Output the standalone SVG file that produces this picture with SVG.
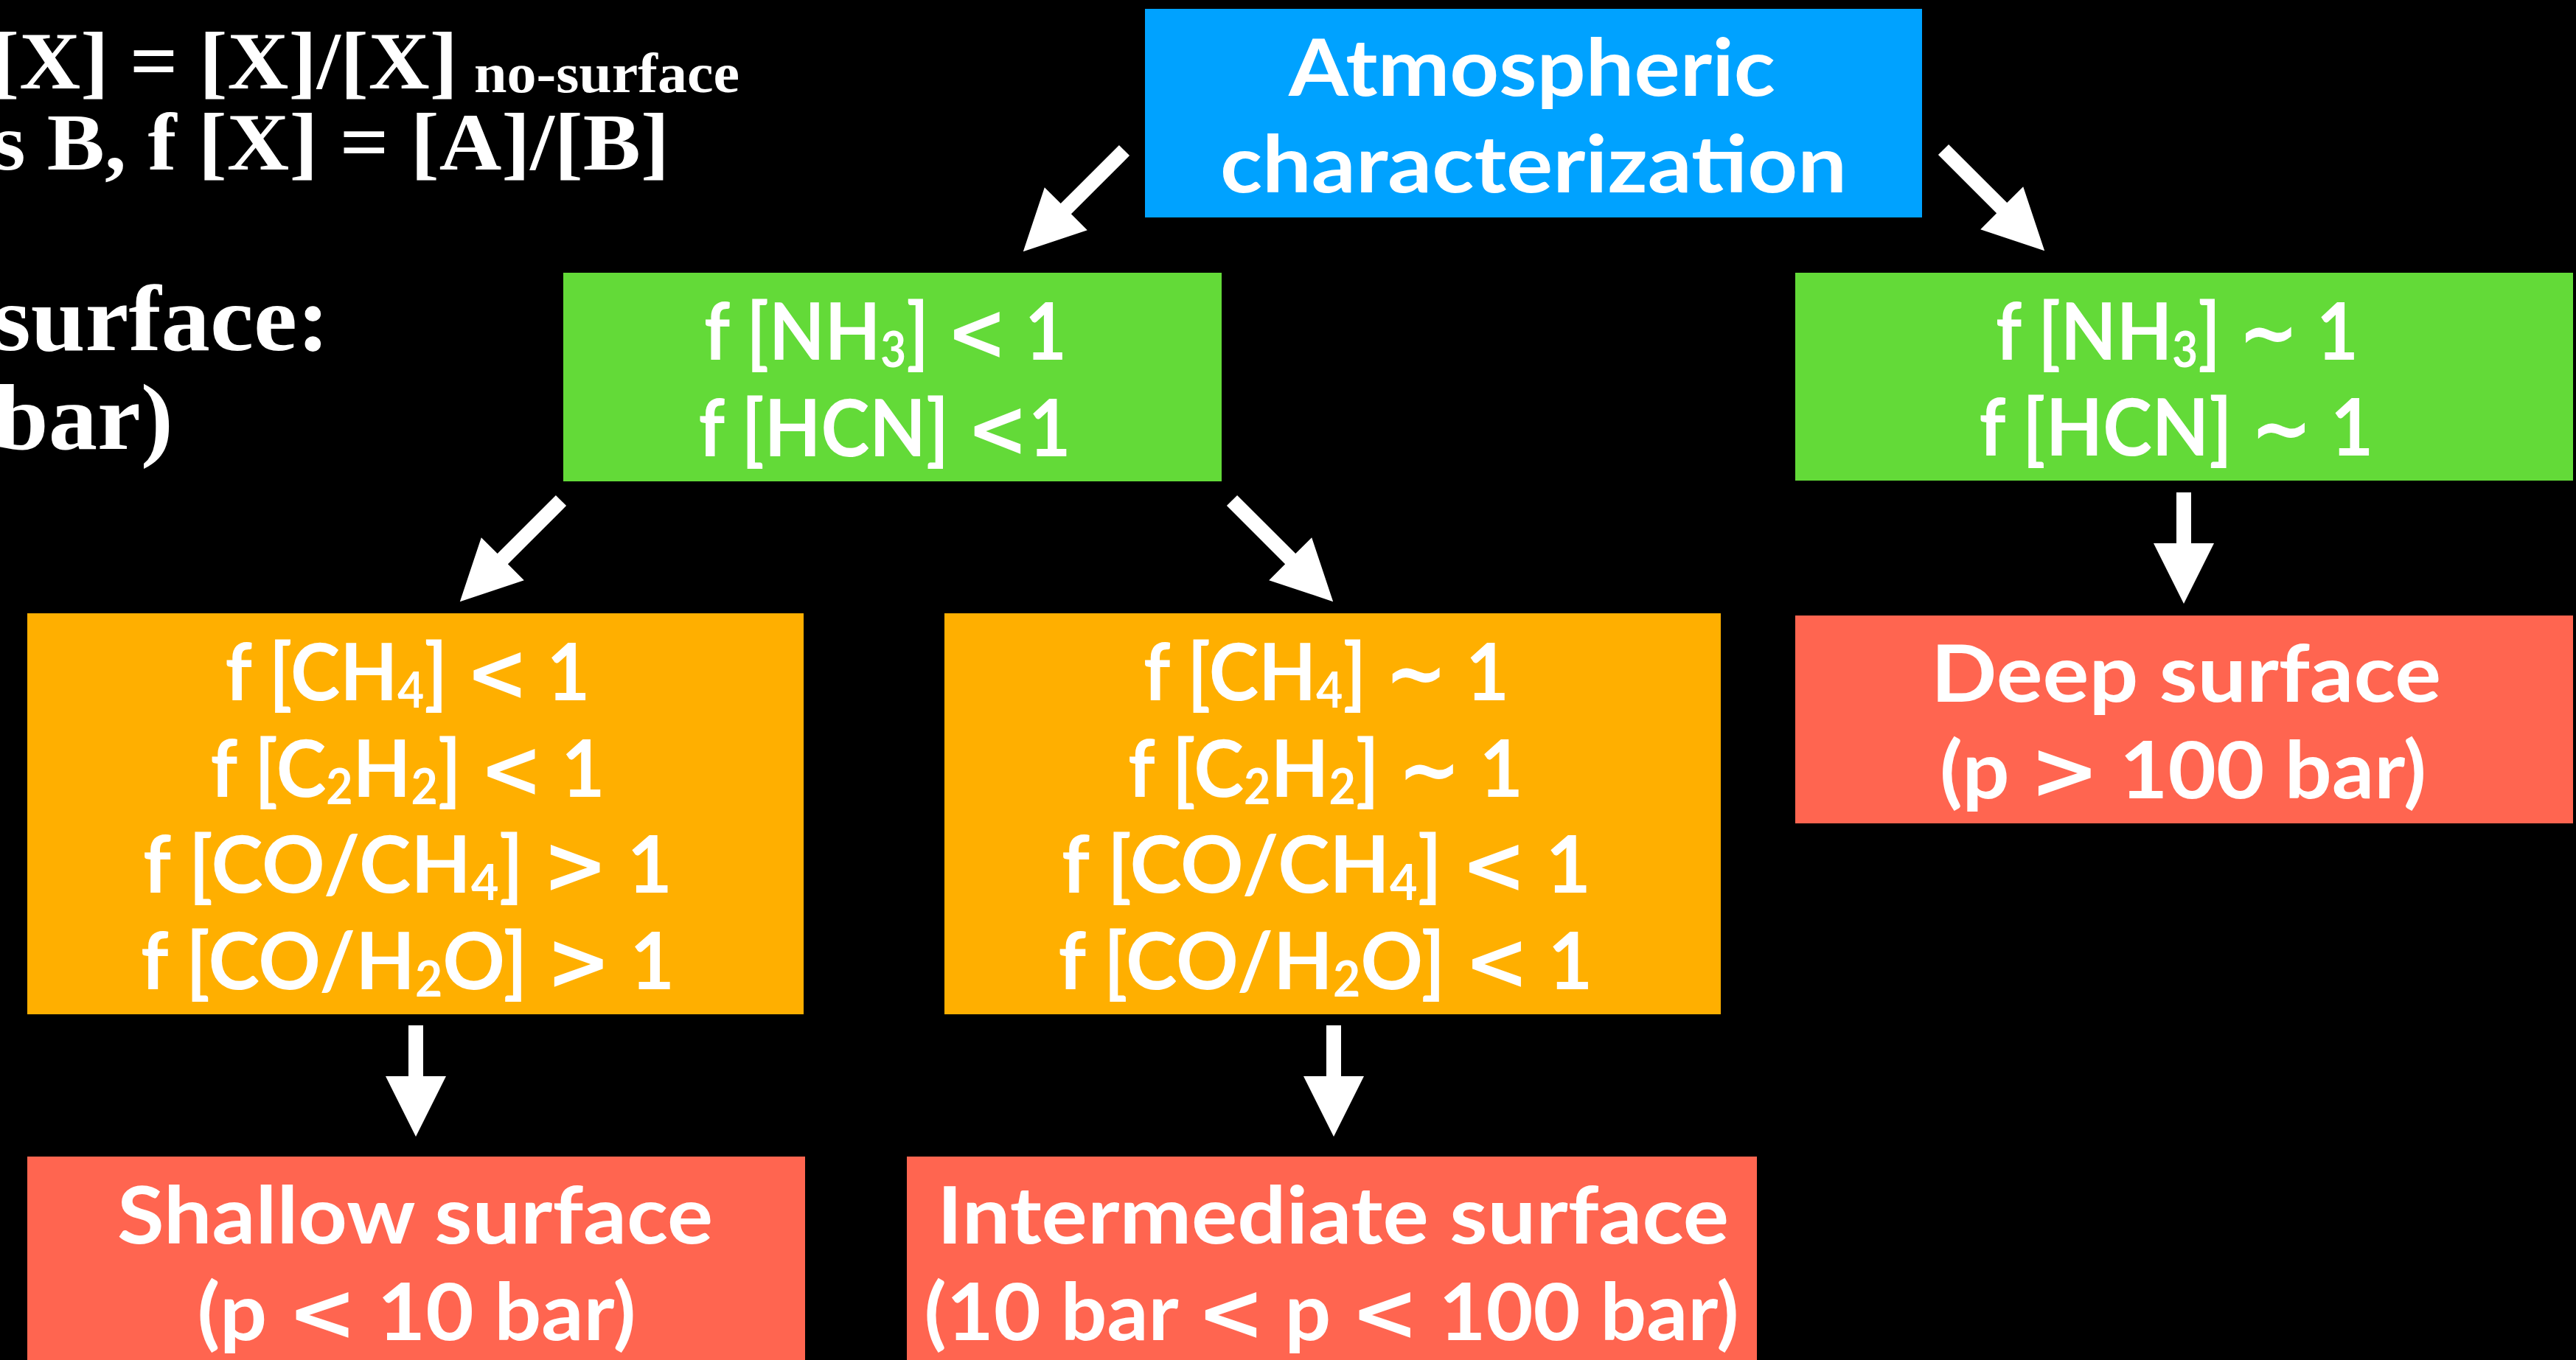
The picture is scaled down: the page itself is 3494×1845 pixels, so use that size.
<svg xmlns="http://www.w3.org/2000/svg" xmlns:xlink="http://www.w3.org/1999/xlink" width="3494" height="1845" viewBox="0 0 3494 1845">
<style>
.bg{fill:#000}
.blue{fill:#00A2FF}
.green{fill:#63DA38}
.orange{fill:#FFAF00}
.red{fill:#FF6550}
.t{font-family:Lato,"Open Sans","DejaVu Sans",sans-serif;font-weight:bold;font-size:108px;fill:#fff;text-anchor:middle}
.s{font-size:66px}
.op{font-family:"DejaVu Sans",sans-serif;font-weight:bold}
.serif{font-family:"Liberation Serif","Times New Roman",serif;font-weight:bold;fill:#fff}
.arrow{fill:#fff}
</style>
<defs>
<path id="arrD" d="M0,-10 H112 V-41 L194,0 L112,41 V10 H0 Z"/>
<path id="arrV" d="M0,-10 H69 V-41 L151,0 L69,41 V10 H0 Z"/>
</defs>
<rect class="bg" x="0" y="0" width="3494" height="1845"/>

<g id="definitions">
<text class="serif" x="-12" y="120" font-size="110" textLength="633" lengthAdjust="spacingAndGlyphs">[X] = [X]/[X]</text>
<text class="serif" x="643" y="125" font-size="76" textLength="360" lengthAdjust="spacingAndGlyphs">no-surface</text>
<text class="serif" x="-11" y="230" font-size="110" textLength="919" lengthAdjust="spacingAndGlyphs">s B, f [X] = [A]/[B]</text>
<text class="serif" x="-10" y="475" font-size="128" textLength="457" lengthAdjust="spacingAndGlyphs">surface:</text>
<text class="serif" x="-8" y="609" font-size="128" textLength="243" lengthAdjust="spacingAndGlyphs">bar)</text>
</g>

<g id="connectors" class="arrow">
<use xlink:href="#arrD" transform="translate(1525,204) rotate(135)"/>
<use xlink:href="#arrD" transform="translate(2636,203) rotate(45)"/>
<use xlink:href="#arrD" transform="translate(761,679) rotate(135)"/>
<use xlink:href="#arrD" transform="translate(1671,679) rotate(45)"/>
<use xlink:href="#arrV" transform="translate(2962,668) rotate(90)"/>
<use xlink:href="#arrV" transform="translate(564,1391) rotate(90)"/>
<use xlink:href="#arrV" transform="translate(1809,1391) rotate(90)"/>
</g>

<g id="atmospheric">
<rect class="blue" x="1553" y="12" width="1054" height="283"/>
<text class="t" x="2078" y="130" textLength="660" lengthAdjust="spacingAndGlyphs">Atmospheric</text>
<text class="t" x="2080" y="261" textLength="850" lengthAdjust="spacingAndGlyphs">characterization</text>
</g>

<g id="nh3-low">
<rect class="green" x="764" y="370" width="893" height="283"/>
<text class="t" x="1201" y="488" textLength="492" lengthAdjust="spacingAndGlyphs">f [NH<tspan class="s" dy="10">3</tspan><tspan dy="-10">] </tspan><tspan class="op">&lt;</tspan> 1</text>
<text class="t" x="1200" y="619" textLength="505" lengthAdjust="spacingAndGlyphs">f [HCN] <tspan class="op">&lt;</tspan>1</text>
</g>

<g id="nh3-unity">
<rect class="green" x="2435" y="370" width="1055" height="282"/>
<text class="t" x="2953" y="488" textLength="492" lengthAdjust="spacingAndGlyphs">f [NH<tspan class="s" dy="10">3</tspan><tspan dy="-10">] </tspan><tspan class="op">~</tspan> 1</text>
<text class="t" x="2952" y="618" textLength="535" lengthAdjust="spacingAndGlyphs">f [HCN] <tspan class="op">~</tspan> 1</text>
</g>

<g id="deep">
<rect class="red" x="2435" y="835" width="1055" height="282"/>
<text class="t" x="2965" y="952" textLength="692" lengthAdjust="spacingAndGlyphs">Deep surface</text>
<text class="t" x="2961" y="1083" textLength="660" lengthAdjust="spacingAndGlyphs">(p <tspan class="op">&gt;</tspan> 100 bar)</text>
</g>

<g id="ch4-low">
<rect class="orange" x="37" y="832" width="1053" height="544"/>
<text class="t" x="553" y="950" textLength="495" lengthAdjust="spacingAndGlyphs">f [CH<tspan class="s" dy="10">4</tspan><tspan dy="-10">] </tspan><tspan class="op">&lt;</tspan> 1</text>
<text class="t" x="553" y="1081" textLength="535" lengthAdjust="spacingAndGlyphs">f [C<tspan class="s" dy="10">2</tspan><tspan dy="-10">H</tspan><tspan class="s" dy="10">2</tspan><tspan dy="-10">] </tspan><tspan class="op">&lt;</tspan> 1</text>
<text class="t" x="553" y="1211" textLength="718" lengthAdjust="spacingAndGlyphs">f [CO/CH<tspan class="s" dy="10">4</tspan><tspan dy="-10">] </tspan><tspan class="op">&gt;</tspan> 1</text>
<text class="t" x="553" y="1342" textLength="724" lengthAdjust="spacingAndGlyphs">f [CO/H<tspan class="s" dy="10">2</tspan><tspan dy="-10">O] </tspan><tspan class="op">&gt;</tspan> 1</text>
</g>

<g id="ch4-unity">
<rect class="orange" x="1281" y="832" width="1053" height="544"/>
<text class="t" x="1799" y="950" textLength="496" lengthAdjust="spacingAndGlyphs">f [CH<tspan class="s" dy="10">4</tspan><tspan dy="-10">] </tspan><tspan class="op">~</tspan> 1</text>
<text class="t" x="1798" y="1081" textLength="536" lengthAdjust="spacingAndGlyphs">f [C<tspan class="s" dy="10">2</tspan><tspan dy="-10">H</tspan><tspan class="s" dy="10">2</tspan><tspan dy="-10">] </tspan><tspan class="op">~</tspan> 1</text>
<text class="t" x="1799" y="1211" textLength="718" lengthAdjust="spacingAndGlyphs">f [CO/CH<tspan class="s" dy="10">4</tspan><tspan dy="-10">] </tspan><tspan class="op">&lt;</tspan> 1</text>
<text class="t" x="1798" y="1342" textLength="725" lengthAdjust="spacingAndGlyphs">f [CO/H<tspan class="s" dy="10">2</tspan><tspan dy="-10">O] </tspan><tspan class="op">&lt;</tspan> 1</text>
</g>

<g id="shallow">
<rect class="red" x="37" y="1569" width="1055" height="276"/>
<text class="t" x="563" y="1687" textLength="808" lengthAdjust="spacingAndGlyphs">Shallow surface</text>
<text class="t" x="565" y="1818" textLength="595" lengthAdjust="spacingAndGlyphs">(p <tspan class="op">&lt;</tspan> 10 bar)</text>
</g>

<g id="intermediate">
<rect class="red" x="1230" y="1569" width="1153" height="276"/>
<text class="t" x="1808" y="1687" textLength="1074" lengthAdjust="spacingAndGlyphs">Intermediate surface</text>
<text class="t" x="1806" y="1818" textLength="1105" lengthAdjust="spacingAndGlyphs">(10 bar <tspan class="op">&lt;</tspan> p <tspan class="op">&lt;</tspan> 100 bar)</text>
</g>
</svg>
